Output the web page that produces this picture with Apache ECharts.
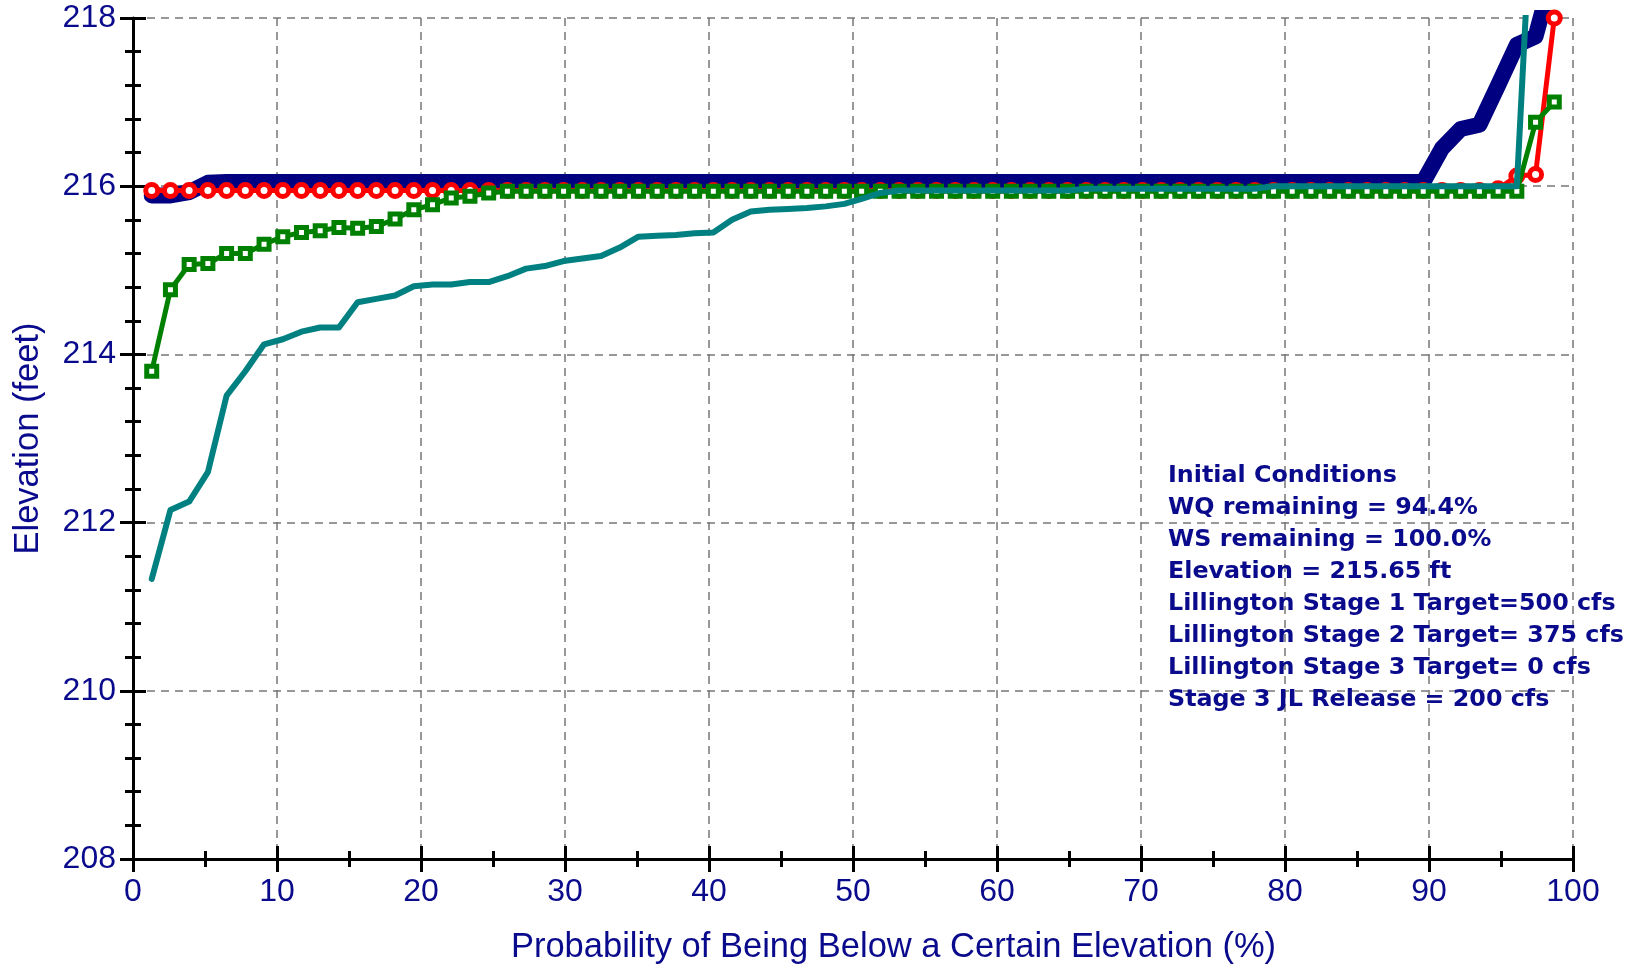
<!DOCTYPE html>
<html>
<head>
<meta charset="utf-8">
<script src="https://cdn.jsdelivr.net/npm/echarts@6/dist/echarts.min.js"></script>
<style>
  html, body { margin: 0; padding: 0; background: #fff; }
  #chart { width: 1637px; height: 966px; }
</style>
</head>
<body>
<div id="chart"></div>
<script>
// probability of being below (%)
const prob = [1.3, 2.6, 3.9, 5.2, 6.5, 7.8, 9.1, 10.4, 11.7, 13.0,
  14.3, 15.6, 16.9, 18.2, 19.5, 20.8, 22.1, 23.4, 24.7, 26.0,
  27.3, 28.6, 29.9, 31.2, 32.5, 33.8, 35.1, 36.4, 37.7, 39.0,
  40.3, 41.6, 42.9, 44.2, 45.5, 46.8, 48.1, 49.4, 50.6, 51.9,
  53.2, 54.5, 55.8, 57.1, 58.4, 59.7, 61.0, 62.3, 63.6, 64.9,
  66.2, 67.5, 68.8, 70.1, 71.4, 72.7, 74.0, 75.3, 76.6, 77.9,
  79.2, 80.5, 81.8, 83.1, 84.4, 85.7, 87.0, 88.3, 89.6, 90.9,
  92.2, 93.5, 94.8, 96.1, 97.4, 98.7];

// elevations (feet)
const navyElev = [215.89, 215.89, 215.93, 216.04, 216.05, 216.05, 216.05, 216.05, 216.05, 216.05,
  216.05, 216.05, 216.05, 216.05, 216.05, 216.05, 216.05, 216.05, 216.05, 216.05,
  216.05, 216.05, 216.05, 216.05, 216.05, 216.05, 216.05, 216.05, 216.05, 216.05,
  216.05, 216.05, 216.05, 216.05, 216.05, 216.05, 216.05, 216.05, 216.05, 216.05,
  216.05, 216.05, 216.05, 216.05, 216.05, 216.05, 216.05, 216.05, 216.05, 216.05,
  216.05, 216.05, 216.05, 216.05, 216.05, 216.05, 216.05, 216.05, 216.05, 216.05,
  216.05, 216.05, 216.05, 216.05, 216.05, 216.05, 216.05, 216.05, 216.05, 216.45,
  216.68, 216.73, 217.20, 217.68, 217.78, 218.60];

const redElev = [215.95, 215.95, 215.95, 215.95, 215.95, 215.95, 215.95, 215.95, 215.95, 215.95,
  215.95, 215.95, 215.95, 215.95, 215.95, 215.95, 215.95, 215.95, 215.95, 215.95,
  215.95, 215.95, 215.95, 215.95, 215.95, 215.95, 215.95, 215.95, 215.95, 215.95,
  215.95, 215.95, 215.95, 215.95, 215.95, 215.95, 215.95, 215.95, 215.95, 215.95,
  215.95, 215.95, 215.95, 215.95, 215.95, 215.95, 215.95, 215.95, 215.95, 215.95,
  215.95, 215.95, 215.95, 215.95, 215.95, 215.95, 215.95, 215.95, 215.95, 215.95,
  215.95, 215.95, 215.95, 215.95, 215.95, 215.95, 215.95, 215.95, 215.95, 215.95,
  215.95, 215.95, 215.97, 216.12, 216.14, 218.00];

const greenElev = [213.80, 214.77, 215.07, 215.08, 215.20, 215.20, 215.31, 215.40, 215.45, 215.47,
  215.51, 215.50, 215.52, 215.61, 215.72, 215.78, 215.86, 215.88, 215.92, 215.94,
  215.94, 215.94, 215.94, 215.94, 215.94, 215.94, 215.94, 215.94, 215.94, 215.94,
  215.94, 215.94, 215.94, 215.94, 215.94, 215.94, 215.94, 215.94, 215.94, 215.94,
  215.94, 215.94, 215.94, 215.94, 215.94, 215.94, 215.94, 215.94, 215.94, 215.94,
  215.94, 215.94, 215.94, 215.94, 215.94, 215.94, 215.94, 215.94, 215.94, 215.94,
  215.94, 215.94, 215.94, 215.94, 215.94, 215.94, 215.94, 215.94, 215.94, 215.94,
  215.94, 215.94, 215.94, 215.94, 216.76, 217.00];

const tealElev = [211.33, 212.15, 212.25, 212.60, 213.51, 213.80, 214.12, 214.18, 214.27, 214.32,
  214.32, 214.62, 214.66, 214.70, 214.81, 214.83, 214.83, 214.86, 214.86, 214.93,
  215.02, 215.05, 215.11, 215.14, 215.17, 215.27, 215.40, 215.41, 215.42, 215.44,
  215.45, 215.60, 215.70, 215.72, 215.73, 215.74, 215.76, 215.79, 215.85, 215.92,
  215.95, 215.95, 215.95, 215.95, 215.95, 215.95, 215.95, 215.95, 215.95, 215.95,
  215.97, 215.97, 215.97, 215.97, 215.97, 215.97, 215.97, 215.97, 215.97, 215.97,
  216.00, 216.00, 216.00, 216.00, 216.00, 216.00, 216.00, 216.00, 216.00, 216.00,
  216.00, 216.00, 216.00, 216.00, 220.30, 222.00];

const noteLines = [
  'Initial Conditions',
  'WQ remaining = 94.4%',
  'WS remaining = 100.0%',
  'Elevation = 215.65 ft',
  'Lillington Stage 1 Target=500 cfs',
  'Lillington Stage 2 Target= 375 cfs',
  'Lillington Stage 3 Target= 0 cfs',
  'Stage 3 JL Release = 200 cfs'
];

const labelColor = '#0a0a8c';
const font = '"Liberation Sans", Arial, sans-serif';

function pairs(ys) {
  return prob.map((x, i) => [x, ys[i]]);
}

const gridLine = { show: true, lineStyle: { color: '#777', width: 1.5, type: [8, 6] } };
const tickStyle = { color: '#000', width: 3 };

let chart = echarts.init(document.getElementById('chart'));
chart.setOption({
  animation: false,
  grid: { left: 133, right: 64, top: 18, bottom: 107, containLabel: false, outerBoundsMode: 'none' },
  xAxis: [
    {
      type: 'value', min: 0, max: 100, interval: 10, position: 'bottom',
      name: 'Probability of Being Below a Certain Elevation (%)',
      nameLocation: 'middle', nameGap: 71,
      nameTextStyle: { color: labelColor, fontSize: 34.5, fontFamily: font, padding: [0, 0, 0, 81] },
      axisLine: { show: true, onZero: false, lineStyle: { color: '#000', width: 3 } },
      axisTick: { show: true, length: 13, lineStyle: tickStyle },
      minorTick: { show: true, splitNumber: 2, length: 8, lineStyle: tickStyle },
      axisLabel: { color: labelColor, fontSize: 32, fontFamily: font, margin: 17 },
      splitLine: gridLine
    },
    {
      type: 'value', min: 0, max: 100, interval: 10, position: 'bottom', offset: 0,
      axisLine: { show: false },
      axisTick: { show: true, inside: true, length: 13, lineStyle: tickStyle },
      minorTick: { show: true, splitNumber: 2, length: 8, lineStyle: tickStyle },
      axisLabel: { show: false },
      splitLine: { show: false }
    }
  ],
  yAxis: [
    {
      type: 'value', min: 208, max: 218, interval: 2, position: 'left',
      name: 'Elevation (feet)',
      nameLocation: 'middle', nameGap: 87,
      nameTextStyle: { color: labelColor, fontSize: 34.5, fontFamily: font },
      axisLine: { show: true, onZero: false, lineStyle: { color: '#000', width: 3 } },
      axisTick: { show: true, length: 13, lineStyle: tickStyle },
      minorTick: { show: true, splitNumber: 5, length: 8, lineStyle: tickStyle },
      axisLabel: { color: labelColor, fontSize: 32, fontFamily: font, margin: 17 },
      splitLine: gridLine
    },
    {
      type: 'value', min: 208, max: 218, interval: 2, position: 'left', offset: 0,
      axisLine: { show: false },
      axisTick: { show: true, inside: true, length: 13, lineStyle: tickStyle },
      minorTick: { show: true, splitNumber: 5, length: 8, lineStyle: tickStyle },
      axisLabel: { show: false },
      splitLine: { show: false }
    }
  ],
  series: [
    {
      type: 'line', data: pairs(navyElev), symbol: 'none', z: 2,
      lineStyle: { color: '#000080', width: 16, cap: 'round', join: 'round' }
    },
    {
      type: 'line', data: pairs(redElev), symbol: 'circle', symbolSize: 12, showAllSymbol: true, z: 3,
      lineStyle: { color: '#ff0000', width: 5 },
      itemStyle: { color: '#fff', borderColor: '#ff0000', borderWidth: 5 }
    },
    {
      type: 'line', data: pairs(greenElev), symbol: 'rect', symbolSize: 10, showAllSymbol: true, z: 4,
      lineStyle: { color: '#008000', width: 5 },
      itemStyle: { color: '#fff', borderColor: '#008000', borderWidth: 5 }
    },
    {
      type: 'line', data: pairs(tealElev), symbol: 'none', z: 5,
      lineStyle: { color: '#008080', width: 6, cap: 'round', join: 'round' }
    }
  ],
  graphic: [
    {
      type: 'text', left: 1168, top: 460, z: 10,
      style: {
        text: noteLines.join('\n'),
        fill: labelColor,
        font: 'bold 23.8px "DejaVu Sans", Verdana, sans-serif',
        lineHeight: 32
      }
    }
  ]
});
</script>
</body>
</html>
